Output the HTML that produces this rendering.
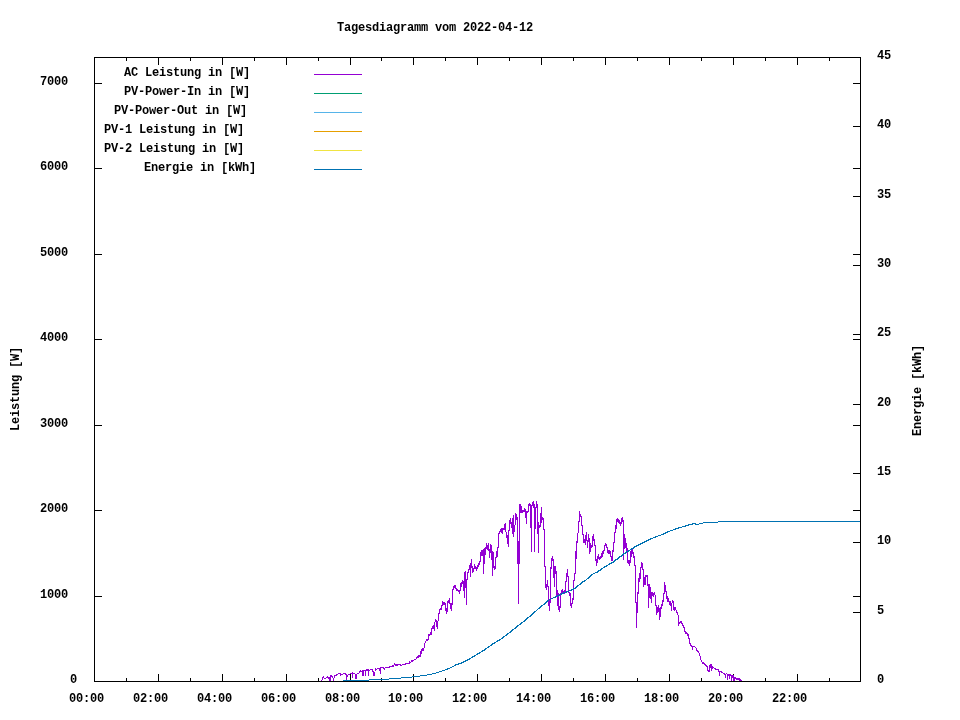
<!DOCTYPE html>
<html><head><meta charset="utf-8"><title>Tagesdiagramm vom 2022-04-12</title>
<style>html,body{margin:0;padding:0;background:#fff;width:960px;height:720px;overflow:hidden}svg{display:block}</style>
</head><body>
<svg width="960" height="720" viewBox="0 0 960 720" shape-rendering="crispEdges">
<rect x="0" y="0" width="960" height="720" fill="#fff"/>
<path d="M126.5 681v-3M126.5 58v3M158.5 681v-7M158.5 58v7M190.5 681v-3M190.5 58v3M222.5 681v-7M222.5 58v7M254.5 681v-3M254.5 58v3M286.5 681v-7M286.5 58v7M318.5 681v-3M318.5 58v3M350.5 681v-7M350.5 58v7M381.5 681v-3M381.5 58v3M413.5 681v-7M413.5 58v7M445.5 681v-3M445.5 58v3M477.5 681v-7M477.5 58v7M509.5 681v-3M509.5 58v3M541.5 681v-7M541.5 58v7M573.5 681v-3M573.5 58v3M605.5 681v-7M605.5 58v7M637.5 681v-3M637.5 58v3M669.5 681v-7M669.5 58v7M701.5 681v-3M701.5 58v3M733.5 681v-7M733.5 58v7M765.5 681v-3M765.5 58v3M797.5 681v-7M797.5 58v7M829.5 681v-3M829.5 58v3M95 681.5h7M860 681.5h-7M95 596.5h7M860 596.5h-7M95 510.5h7M860 510.5h-7M95 425.5h7M860 425.5h-7M95 339.5h7M860 339.5h-7M95 254.5h7M860 254.5h-7M95 168.5h7M860 168.5h-7M95 83.5h7M860 83.5h-7M860 681.5h-7M860 612.5h-7M860 542.5h-7M860 473.5h-7M860 404.5h-7M860 334.5h-7M860 265.5h-7M860 196.5h-7M860 126.5h-7M860 57.5h-7" stroke="#000" stroke-width="1" fill="none"/>
<path d="M321 680h1v1h-1zM322 677h1v3h-1zM323 676h1v2h-1zM324 678h1v1h-1zM325 678h1v1h-1zM326 677h1v1h-1zM327 676h1v2h-1zM328 677h1v2h-1zM329 677h1v4h-1zM330 675h1v6h-1zM331 675h1v2h-1zM332 676h1v2h-1zM333 678h1v3h-1zM334 675h1v3h-1zM335 675h1v1h-1zM336 674h1v2h-1zM337 674h1v1h-1zM338 673h1v1h-1zM339 673h1v1h-1zM340 673h1v3h-1zM341 674h1v1h-1zM342 674h1v1h-1zM343 673h1v1h-1zM344 673h1v1h-1zM345 673h1v2h-1zM346 674h1v6h-1zM347 675h1v2h-1zM348 674h1v1h-1zM349 674h1v1h-1zM350 673h1v1h-1zM351 673h1v1h-1zM352 672h1v6h-1zM353 673h1v1h-1zM354 673h1v1h-1zM355 674h1v5h-1zM356 674h1v5h-1zM357 673h1v1h-1zM358 673h1v1h-1zM359 671h1v2h-1zM360 670h1v2h-1zM361 671h1v1h-1zM362 670h1v6h-1zM363 670h1v6h-1zM364 670h1v1h-1zM365 670h1v6h-1zM366 669h1v2h-1zM367 669h1v2h-1zM368 669h1v7h-1zM369 670h1v1h-1zM370 669h1v1h-1zM371 669h1v1h-1zM372 669h1v3h-1zM373 671h1v5h-1zM374 672h1v4h-1zM375 668h1v3h-1zM376 669h1v1h-1zM377 668h1v1h-1zM378 668h1v1h-1zM379 668h1v3h-1zM380 667h1v7h-1zM381 667h1v1h-1zM382 667h1v1h-1zM383 667h1v2h-1zM384 668h1v2h-1zM385 667h1v1h-1zM386 667h1v1h-1zM387 667h1v1h-1zM388 667h1v1h-1zM389 666h1v2h-1zM390 666h1v1h-1zM391 666h1v1h-1zM392 665h1v2h-1zM393 665h1v2h-1zM394 663h1v2h-1zM395 664h1v2h-1zM396 664h1v2h-1zM397 664h1v2h-1zM398 664h1v1h-1zM399 664h1v1h-1zM400 664h1v2h-1zM401 665h1v1h-1zM402 664h1v1h-1zM403 664h1v1h-1zM404 664h1v1h-1zM405 663h1v2h-1zM406 663h1v1h-1zM407 663h1v1h-1zM408 663h1v1h-1zM409 661h1v3h-1zM410 662h1v1h-1zM411 660h1v2h-1zM412 660h1v2h-1zM413 660h1v1h-1zM414 659h1v1h-1zM415 659h1v1h-1zM416 657h1v2h-1zM417 656h1v2h-1zM418 655h1v3h-1zM419 655h1v2h-1zM420 651h1v6h-1zM421 649h1v5h-1zM422 648h1v3h-1zM423 648h1v3h-1zM424 643h1v5h-1zM425 641h1v2h-1zM426 639h1v2h-1zM427 639h1v2h-1zM428 634h1v6h-1zM429 634h1v2h-1zM430 632h1v3h-1zM431 628h1v7h-1zM432 626h1v3h-1zM433 625h1v4h-1zM434 622h1v9h-1zM435 619h1v3h-1zM436 620h1v7h-1zM437 621h1v8h-1zM438 613h1v8h-1zM439 609h1v5h-1zM440 608h1v2h-1zM441 605h1v5h-1zM442 601h1v5h-1zM443 602h1v3h-1zM444 602h1v3h-1zM445 603h1v8h-1zM446 608h1v6h-1zM447 601h1v11h-1zM448 600h1v3h-1zM449 598h1v6h-1zM450 603h1v6h-1zM451 603h1v8h-1zM452 589h1v16h-1zM453 586h1v4h-1zM454 585h1v3h-1zM455 585h1v4h-1zM456 588h1v3h-1zM457 589h1v2h-1zM458 590h1v2h-1zM459 590h1v4h-1zM460 583h1v8h-1zM461 582h1v5h-1zM462 580h1v4h-1zM463 581h1v10h-1zM464 572h1v26h-1zM465 571h1v17h-1zM466 579h1v26h-1zM467 572h1v8h-1zM468 569h1v4h-1zM469 565h1v5h-1zM470 563h1v14h-1zM471 559h1v9h-1zM472 566h1v7h-1zM473 568h1v4h-1zM474 564h1v5h-1zM475 566h1v3h-1zM476 567h1v4h-1zM477 565h1v4h-1zM478 563h1v4h-1zM479 561h1v4h-1zM480 552h1v10h-1zM481 550h1v6h-1zM482 550h1v6h-1zM483 549h1v25h-1zM484 548h1v16h-1zM485 547h1v8h-1zM486 543h1v6h-1zM487 545h1v5h-1zM488 543h1v8h-1zM489 549h1v9h-1zM490 544h1v9h-1zM491 545h1v15h-1zM492 551h1v25h-1zM493 552h1v16h-1zM494 566h1v4h-1zM495 557h1v12h-1zM496 551h1v7h-1zM497 547h1v10h-1zM498 533h1v15h-1zM499 531h1v3h-1zM500 529h1v3h-1zM501 528h1v5h-1zM502 528h1v6h-1zM503 528h1v2h-1zM504 524h1v6h-1zM505 523h1v9h-1zM506 532h1v6h-1zM507 535h1v9h-1zM508 530h1v17h-1zM509 520h1v11h-1zM510 518h1v6h-1zM511 522h1v6h-1zM512 518h1v16h-1zM513 515h1v22h-1zM514 525h1v7h-1zM515 513h1v12h-1zM516 514h1v6h-1zM517 517h1v47h-1zM518 541h1v63h-1zM519 504h1v60h-1zM520 504h1v9h-1zM521 506h1v7h-1zM522 510h1v3h-1zM523 510h1v2h-1zM524 508h1v4h-1zM525 509h1v9h-1zM526 511h1v13h-1zM527 511h1v2h-1zM528 504h1v8h-1zM529 503h1v3h-1zM530 504h1v24h-1zM531 505h1v47h-1zM532 502h1v4h-1zM533 501h1v7h-1zM534 504h1v48h-1zM535 507h1v22h-1zM536 501h1v7h-1zM537 504h1v30h-1zM538 522h1v31h-1zM539 525h1v3h-1zM540 513h1v14h-1zM541 507h1v16h-1zM542 517h1v3h-1zM543 518h1v12h-1zM544 529h1v38h-1zM545 566h1v22h-1zM546 584h1v6h-1zM547 580h1v7h-1zM548 586h1v20h-1zM549 599h1v12h-1zM550 567h1v36h-1zM551 558h1v11h-1zM552 556h1v5h-1zM553 559h1v19h-1zM554 566h1v21h-1zM555 566h1v8h-1zM556 571h1v25h-1zM557 590h1v16h-1zM558 593h1v17h-1zM559 606h1v6h-1zM560 593h1v15h-1zM561 590h1v4h-1zM562 589h1v4h-1zM563 591h1v3h-1zM564 590h1v4h-1zM565 581h1v12h-1zM566 573h1v9h-1zM567 569h1v8h-1zM568 576h1v17h-1zM569 592h1v4h-1zM570 593h1v13h-1zM571 603h1v5h-1zM572 598h1v6h-1zM573 580h1v20h-1zM574 573h1v8h-1zM575 551h1v23h-1zM576 541h1v18h-1zM577 533h1v10h-1zM578 521h1v12h-1zM579 511h1v11h-1zM580 514h1v3h-1zM581 516h1v10h-1zM582 525h1v10h-1zM583 534h1v9h-1zM584 539h1v4h-1zM585 535h1v10h-1zM586 532h1v9h-1zM587 540h1v8h-1zM588 534h1v8h-1zM589 538h1v16h-1zM590 543h1v9h-1zM591 545h1v3h-1zM592 536h1v11h-1zM593 534h1v7h-1zM594 539h1v7h-1zM595 545h1v16h-1zM596 559h1v7h-1zM597 556h1v7h-1zM598 554h1v5h-1zM599 557h1v3h-1zM600 556h1v3h-1zM601 553h1v5h-1zM602 551h1v6h-1zM603 550h1v4h-1zM604 545h1v6h-1zM605 543h1v3h-1zM606 544h1v4h-1zM607 547h1v6h-1zM608 550h1v4h-1zM609 550h1v4h-1zM610 551h1v6h-1zM611 556h1v5h-1zM612 550h1v11h-1zM613 542h1v10h-1zM614 532h1v11h-1zM615 525h1v8h-1zM616 519h1v10h-1zM617 518h1v4h-1zM618 519h1v4h-1zM619 520h1v4h-1zM620 522h1v4h-1zM621 518h1v6h-1zM622 517h1v5h-1zM623 520h1v40h-1zM624 534h1v15h-1zM625 538h1v10h-1zM626 543h1v9h-1zM627 548h1v15h-1zM628 560h1v4h-1zM629 560h1v6h-1zM630 551h1v12h-1zM631 550h1v7h-1zM632 548h1v6h-1zM633 552h1v6h-1zM634 556h1v10h-1zM635 565h1v38h-1zM636 602h1v26h-1zM637 592h1v21h-1zM638 578h1v16h-1zM639 573h1v9h-1zM640 567h1v12h-1zM641 562h1v6h-1zM642 563h1v7h-1zM643 569h1v18h-1zM644 577h1v8h-1zM645 575h1v10h-1zM646 575h1v2h-1zM647 575h1v11h-1zM648 584h1v24h-1zM649 584h1v14h-1zM650 587h1v12h-1zM651 592h1v11h-1zM652 592h1v4h-1zM653 593h1v4h-1zM654 592h1v3h-1zM655 595h1v11h-1zM656 605h1v10h-1zM657 607h1v6h-1zM658 605h1v7h-1zM659 608h1v12h-1zM660 607h1v10h-1zM661 604h1v5h-1zM662 600h1v6h-1zM663 593h1v9h-1zM664 582h1v12h-1zM665 585h1v7h-1zM666 591h1v8h-1zM667 596h1v6h-1zM668 598h1v4h-1zM669 601h1v4h-1zM670 601h1v5h-1zM671 603h1v8h-1zM672 600h1v3h-1zM673 601h1v9h-1zM674 607h1v4h-1zM675 607h1v3h-1zM676 610h1v3h-1zM677 612h1v3h-1zM678 615h1v11h-1zM679 622h1v2h-1zM680 621h1v2h-1zM681 621h1v3h-1zM682 623h1v3h-1zM683 625h1v3h-1zM684 627h1v5h-1zM685 631h1v3h-1zM686 632h1v2h-1zM687 633h1v3h-1zM688 634h1v5h-1zM689 638h1v6h-1zM690 643h1v3h-1zM691 645h1v2h-1zM692 646h1v4h-1zM693 646h1v1h-1zM694 646h1v1h-1zM695 647h1v1h-1zM696 648h1v3h-1zM697 650h1v2h-1zM698 651h1v2h-1zM699 653h1v3h-1zM700 656h1v4h-1zM701 660h1v2h-1zM702 662h1v2h-1zM703 662h1v2h-1zM704 663h1v2h-1zM705 664h1v2h-1zM706 665h1v2h-1zM707 666h1v5h-1zM708 670h1v2h-1zM709 665h1v7h-1zM710 664h1v4h-1zM711 664h1v7h-1zM712 666h1v3h-1zM713 667h1v1h-1zM714 668h1v1h-1zM715 668h1v2h-1zM716 669h1v1h-1zM717 669h1v1h-1zM718 669h1v3h-1zM719 671h1v5h-1zM720 671h1v1h-1zM721 671h1v2h-1zM722 672h1v1h-1zM723 673h1v1h-1zM724 673h1v2h-1zM725 674h1v4h-1zM726 673h1v1h-1zM727 674h1v6h-1zM728 674h1v2h-1zM729 674h1v5h-1zM730 674h1v2h-1zM731 675h1v6h-1zM732 675h1v3h-1zM733 675h1v6h-1zM734 677h1v4h-1zM735 677h1v2h-1zM736 678h1v2h-1zM737 678h1v2h-1zM738 678h1v2h-1zM739 678h1v3h-1zM740 679h1v2h-1zM741 680h1v1h-1z" fill="#9400d3"/>
<path d="M343 680h1v1h-1zM344 680h1v1h-1zM345 680h1v1h-1zM346 680h1v1h-1zM347 680h1v1h-1zM348 680h1v1h-1zM349 680h1v1h-1zM350 680h1v1h-1zM351 680h1v1h-1zM352 680h1v1h-1zM353 680h1v1h-1zM354 680h1v1h-1zM355 680h1v1h-1zM356 680h1v1h-1zM357 680h1v1h-1zM358 680h1v1h-1zM359 680h1v1h-1zM360 680h1v1h-1zM361 680h1v1h-1zM362 680h1v1h-1zM363 680h1v1h-1zM364 680h1v1h-1zM365 680h1v1h-1zM366 680h1v1h-1zM367 680h1v1h-1zM368 680h1v1h-1zM369 679h1v1h-1zM370 679h1v1h-1zM371 679h1v1h-1zM372 679h1v1h-1zM373 679h1v1h-1zM374 679h1v1h-1zM375 679h1v1h-1zM376 679h1v1h-1zM377 679h1v1h-1zM378 679h1v1h-1zM379 679h1v1h-1zM380 679h1v1h-1zM381 679h1v1h-1zM382 679h1v1h-1zM383 679h1v1h-1zM384 679h1v1h-1zM385 679h1v1h-1zM386 679h1v1h-1zM387 679h1v1h-1zM388 679h1v1h-1zM389 678h1v1h-1zM390 678h1v1h-1zM391 678h1v1h-1zM392 678h1v1h-1zM393 678h1v1h-1zM394 678h1v1h-1zM395 678h1v1h-1zM396 678h1v1h-1zM397 678h1v1h-1zM398 678h1v1h-1zM399 678h1v1h-1zM400 678h1v1h-1zM401 677h1v1h-1zM402 677h1v1h-1zM403 677h1v1h-1zM404 677h1v1h-1zM405 677h1v1h-1zM406 677h1v1h-1zM407 677h1v1h-1zM408 677h1v1h-1zM409 677h1v1h-1zM410 677h1v1h-1zM411 677h1v1h-1zM412 676h1v1h-1zM413 676h1v1h-1zM414 676h1v1h-1zM415 676h1v1h-1zM416 676h1v1h-1zM417 676h1v1h-1zM418 676h1v1h-1zM419 676h1v1h-1zM420 675h1v1h-1zM421 675h1v1h-1zM422 675h1v1h-1zM423 675h1v1h-1zM424 675h1v1h-1zM425 675h1v1h-1zM426 675h1v1h-1zM427 674h1v1h-1zM428 674h1v1h-1zM429 674h1v1h-1zM430 674h1v1h-1zM431 674h1v1h-1zM432 673h1v1h-1zM433 673h1v1h-1zM434 673h1v1h-1zM435 673h1v1h-1zM436 672h1v1h-1zM437 672h1v1h-1zM438 672h1v1h-1zM439 671h1v1h-1zM440 671h1v1h-1zM441 671h1v1h-1zM442 670h1v1h-1zM443 670h1v1h-1zM444 670h1v1h-1zM445 669h1v1h-1zM446 669h1v1h-1zM447 668h1v2h-1zM448 668h1v1h-1zM449 668h1v1h-1zM450 667h1v1h-1zM451 667h1v1h-1zM452 666h1v1h-1zM453 666h1v1h-1zM454 665h1v1h-1zM455 664h1v2h-1zM456 664h1v1h-1zM457 664h1v1h-1zM458 663h1v2h-1zM459 663h1v1h-1zM460 663h1v1h-1zM461 662h1v2h-1zM462 662h1v1h-1zM463 661h1v2h-1zM464 661h1v1h-1zM465 660h1v2h-1zM466 660h1v1h-1zM467 659h1v2h-1zM468 659h1v1h-1zM469 658h1v2h-1zM470 658h1v1h-1zM471 657h1v1h-1zM472 656h1v2h-1zM473 656h1v1h-1zM474 655h1v2h-1zM475 655h1v1h-1zM476 654h1v1h-1zM477 653h1v2h-1zM478 653h1v1h-1zM479 652h1v2h-1zM480 652h1v1h-1zM481 651h1v1h-1zM482 650h1v2h-1zM483 650h1v1h-1zM484 649h1v2h-1zM485 648h1v2h-1zM486 648h1v1h-1zM487 647h1v1h-1zM488 646h1v2h-1zM489 646h1v1h-1zM490 645h1v1h-1zM491 644h1v2h-1zM492 643h1v2h-1zM493 643h1v1h-1zM494 642h1v2h-1zM495 642h1v1h-1zM496 641h1v1h-1zM497 640h1v2h-1zM498 640h1v1h-1zM499 639h1v2h-1zM500 639h1v1h-1zM501 638h1v1h-1zM502 637h1v2h-1zM503 636h1v2h-1zM504 636h1v1h-1zM505 635h1v1h-1zM506 634h1v2h-1zM507 633h1v2h-1zM508 633h1v1h-1zM509 632h1v1h-1zM510 631h1v2h-1zM511 630h1v2h-1zM512 629h1v2h-1zM513 629h1v1h-1zM514 628h1v1h-1zM515 627h1v2h-1zM516 626h1v2h-1zM517 625h1v2h-1zM518 625h1v1h-1zM519 624h1v1h-1zM520 623h1v2h-1zM521 622h1v2h-1zM522 622h1v1h-1zM523 621h1v1h-1zM524 620h1v2h-1zM525 619h1v2h-1zM526 618h1v2h-1zM527 617h1v2h-1zM528 617h1v1h-1zM529 616h1v1h-1zM530 615h1v2h-1zM531 614h1v2h-1zM532 613h1v2h-1zM533 612h1v2h-1zM534 611h1v2h-1zM535 611h1v1h-1zM536 610h1v1h-1zM537 609h1v1h-1zM538 608h1v1h-1zM539 607h1v2h-1zM540 606h1v2h-1zM541 605h1v2h-1zM542 605h1v1h-1zM543 604h1v1h-1zM544 603h1v2h-1zM545 602h1v2h-1zM546 601h1v2h-1zM547 600h1v2h-1zM548 600h1v1h-1zM549 599h1v1h-1zM550 599h1v1h-1zM551 598h1v1h-1zM552 598h1v1h-1zM553 597h1v1h-1zM554 597h1v1h-1zM555 596h1v2h-1zM556 596h1v1h-1zM557 595h1v2h-1zM558 595h1v1h-1zM559 594h1v2h-1zM560 594h1v1h-1zM561 593h1v2h-1zM562 593h1v1h-1zM563 592h1v2h-1zM564 592h1v1h-1zM565 592h1v1h-1zM566 591h1v2h-1zM567 591h1v1h-1zM568 591h1v1h-1zM569 590h1v1h-1zM570 590h1v1h-1zM571 589h1v2h-1zM572 589h1v1h-1zM573 588h1v2h-1zM574 588h1v1h-1zM575 587h1v2h-1zM576 586h1v2h-1zM577 585h1v2h-1zM578 585h1v1h-1zM579 584h1v1h-1zM580 583h1v2h-1zM581 582h1v2h-1zM582 581h1v2h-1zM583 581h1v1h-1zM584 580h1v2h-1zM585 580h1v1h-1zM586 579h1v1h-1zM587 578h1v1h-1zM588 577h1v2h-1zM589 576h1v2h-1zM590 575h1v2h-1zM591 574h1v2h-1zM592 574h1v1h-1zM593 573h1v1h-1zM594 573h1v1h-1zM595 572h1v1h-1zM596 572h1v1h-1zM597 571h1v2h-1zM598 570h1v2h-1zM599 570h1v1h-1zM600 569h1v2h-1zM601 568h1v2h-1zM602 568h1v1h-1zM603 567h1v1h-1zM604 566h1v2h-1zM605 566h1v1h-1zM606 565h1v2h-1zM607 565h1v1h-1zM608 564h1v1h-1zM609 563h1v2h-1zM610 563h1v1h-1zM611 562h1v2h-1zM612 562h1v1h-1zM613 561h1v2h-1zM614 560h1v2h-1zM615 559h1v2h-1zM616 559h1v1h-1zM617 558h1v2h-1zM618 557h1v2h-1zM619 556h1v2h-1zM620 556h1v1h-1zM621 555h1v2h-1zM622 554h1v2h-1zM623 553h1v2h-1zM624 553h1v1h-1zM625 552h1v2h-1zM626 551h1v2h-1zM627 551h1v1h-1zM628 550h1v2h-1zM629 550h1v1h-1zM630 549h1v1h-1zM631 548h1v2h-1zM632 548h1v1h-1zM633 547h1v2h-1zM634 546h1v2h-1zM635 546h1v1h-1zM636 545h1v2h-1zM637 545h1v1h-1zM638 544h1v2h-1zM639 544h1v1h-1zM640 543h1v2h-1zM641 543h1v1h-1zM642 542h1v2h-1zM643 542h1v1h-1zM644 541h1v2h-1zM645 541h1v1h-1zM646 540h1v2h-1zM647 540h1v1h-1zM648 539h1v2h-1zM649 539h1v1h-1zM650 538h1v2h-1zM651 538h1v1h-1zM652 538h1v1h-1zM653 537h1v1h-1zM654 537h1v1h-1zM655 536h1v2h-1zM656 536h1v1h-1zM657 536h1v1h-1zM658 535h1v1h-1zM659 535h1v1h-1zM660 535h1v1h-1zM661 534h1v1h-1zM662 534h1v1h-1zM663 533h1v2h-1zM664 533h1v1h-1zM665 532h1v2h-1zM666 532h1v1h-1zM667 531h1v2h-1zM668 531h1v1h-1zM669 531h1v1h-1zM670 530h1v1h-1zM671 530h1v1h-1zM672 530h1v1h-1zM673 529h1v1h-1zM674 529h1v1h-1zM675 528h1v2h-1zM676 528h1v1h-1zM677 528h1v1h-1zM678 527h1v2h-1zM679 527h1v1h-1zM680 527h1v1h-1zM681 527h1v1h-1zM682 526h1v1h-1zM683 526h1v1h-1zM684 526h1v1h-1zM685 525h1v2h-1zM686 525h1v1h-1zM687 525h1v1h-1zM688 524h1v2h-1zM689 524h1v1h-1zM690 524h1v1h-1zM691 524h1v1h-1zM692 523h1v2h-1zM693 523h1v1h-1zM694 523h1v1h-1zM695 523h1v2h-1zM696 524h1v1h-1zM697 524h1v1h-1zM698 524h1v1h-1zM699 523h1v1h-1zM700 523h1v1h-1zM701 523h1v1h-1zM702 523h1v1h-1zM703 522h1v1h-1zM704 522h1v1h-1zM705 522h1v1h-1zM706 522h1v1h-1zM707 522h1v1h-1zM708 522h1v1h-1zM709 522h1v1h-1zM710 522h1v1h-1zM711 522h1v1h-1zM712 522h1v1h-1zM713 522h1v1h-1zM714 522h1v1h-1zM715 522h1v1h-1zM716 522h1v1h-1zM717 522h1v1h-1zM718 521h1v1h-1zM719 521h1v1h-1zM720 521h1v1h-1zM721 521h1v1h-1zM722 521h1v1h-1zM723 521h1v1h-1zM724 521h1v1h-1zM725 521h1v1h-1zM726 521h1v1h-1zM727 521h1v1h-1zM728 521h1v1h-1zM729 521h1v1h-1zM730 521h1v1h-1zM731 521h1v1h-1zM732 521h1v1h-1zM733 521h1v1h-1zM734 521h1v1h-1zM735 521h1v1h-1zM736 521h1v1h-1zM737 521h1v1h-1zM738 521h1v1h-1zM739 521h1v1h-1zM740 521h1v1h-1zM741 521h1v1h-1zM742 521h1v1h-1zM743 521h1v1h-1zM744 521h1v1h-1zM745 521h1v1h-1zM746 521h1v1h-1zM747 521h1v1h-1zM748 521h1v1h-1zM749 521h1v1h-1zM750 521h1v1h-1zM751 521h1v1h-1zM752 521h1v1h-1zM753 521h1v1h-1zM754 521h1v1h-1zM755 521h1v1h-1zM756 521h1v1h-1zM757 521h1v1h-1zM758 521h1v1h-1zM759 521h1v1h-1zM760 521h1v1h-1zM761 521h1v1h-1zM762 521h1v1h-1zM763 521h1v1h-1zM764 521h1v1h-1zM765 521h1v1h-1zM766 521h1v1h-1zM767 521h1v1h-1zM768 521h1v1h-1zM769 521h1v1h-1zM770 521h1v1h-1zM771 521h1v1h-1zM772 521h1v1h-1zM773 521h1v1h-1zM774 521h1v1h-1zM775 521h1v1h-1zM776 521h1v1h-1zM777 521h1v1h-1zM778 521h1v1h-1zM779 521h1v1h-1zM780 521h1v1h-1zM781 521h1v1h-1zM782 521h1v1h-1zM783 521h1v1h-1zM784 521h1v1h-1zM785 521h1v1h-1zM786 521h1v1h-1zM787 521h1v1h-1zM788 521h1v1h-1zM789 521h1v1h-1zM790 521h1v1h-1zM791 521h1v1h-1zM792 521h1v1h-1zM793 521h1v1h-1zM794 521h1v1h-1zM795 521h1v1h-1zM796 521h1v1h-1zM797 521h1v1h-1zM798 521h1v1h-1zM799 521h1v1h-1zM800 521h1v1h-1zM801 521h1v1h-1zM802 521h1v1h-1zM803 521h1v1h-1zM804 521h1v1h-1zM805 521h1v1h-1zM806 521h1v1h-1zM807 521h1v1h-1zM808 521h1v1h-1zM809 521h1v1h-1zM810 521h1v1h-1zM811 521h1v1h-1zM812 521h1v1h-1zM813 521h1v1h-1zM814 521h1v1h-1zM815 521h1v1h-1zM816 521h1v1h-1zM817 521h1v1h-1zM818 521h1v1h-1zM819 521h1v1h-1zM820 521h1v1h-1zM821 521h1v1h-1zM822 521h1v1h-1zM823 521h1v1h-1zM824 521h1v1h-1zM825 521h1v1h-1zM826 521h1v1h-1zM827 521h1v1h-1zM828 521h1v1h-1zM829 521h1v1h-1zM830 521h1v1h-1zM831 521h1v1h-1zM832 521h1v1h-1zM833 521h1v1h-1zM834 521h1v1h-1zM835 521h1v1h-1zM836 521h1v1h-1zM837 521h1v1h-1zM838 521h1v1h-1zM839 521h1v1h-1zM840 521h1v1h-1zM841 521h1v1h-1zM842 521h1v1h-1zM843 521h1v1h-1zM844 521h1v1h-1zM845 521h1v1h-1zM846 521h1v1h-1zM847 521h1v1h-1zM848 521h1v1h-1zM849 521h1v1h-1zM850 521h1v1h-1zM851 521h1v1h-1zM852 521h1v1h-1zM853 521h1v1h-1zM854 521h1v1h-1zM855 521h1v1h-1zM856 521h1v1h-1zM857 521h1v1h-1zM858 521h1v1h-1zM859 521h1v1h-1zM860 521h1v1h-1z" fill="#0072b2"/>
<rect x="94.5" y="57.5" width="766" height="624" stroke="#000" stroke-width="1" fill="none"/>
<g font-family="Liberation Mono, monospace" font-weight="bold" font-size="12" letter-spacing="-0.2" fill="#000" shape-rendering="auto">
<text x="337" y="31">Tagesdiagramm vom 2022-04-12</text>
<text x="70" y="683">0</text>
<text x="40" y="598">1000</text>
<text x="40" y="512">2000</text>
<text x="40" y="427">3000</text>
<text x="40" y="341">4000</text>
<text x="40" y="256">5000</text>
<text x="40" y="170">6000</text>
<text x="40" y="85">7000</text>
<text x="877" y="683">0</text>
<text x="877" y="614">5</text>
<text x="877" y="544">10</text>
<text x="877" y="475">15</text>
<text x="877" y="406">20</text>
<text x="877" y="336">25</text>
<text x="877" y="267">30</text>
<text x="877" y="198">35</text>
<text x="877" y="128">40</text>
<text x="877" y="59">45</text>
<text x="69" y="702">00:00</text>
<text x="133" y="702">02:00</text>
<text x="197" y="702">04:00</text>
<text x="261" y="702">06:00</text>
<text x="325" y="702">08:00</text>
<text x="388" y="702">10:00</text>
<text x="452" y="702">12:00</text>
<text x="516" y="702">14:00</text>
<text x="580" y="702">16:00</text>
<text x="644" y="702">18:00</text>
<text x="708" y="702">20:00</text>
<text x="772" y="702">22:00</text>
<text transform="translate(19,431) rotate(-90)">Leistung [W]</text>
<text transform="translate(921,436) rotate(-90)">Energie [kWh]</text>
<text x="124" y="76">AC Leistung in [W]</text>
<text x="124" y="95">PV-Power-In in [W]</text>
<text x="114" y="114">PV-Power-Out in [W]</text>
<text x="104" y="133">PV-1 Leistung in [W]</text>
<text x="104" y="152">PV-2 Leistung in [W]</text>
<text x="144" y="171">Energie in [kWh]</text>
</g>
<path d="M314 74.5H362" stroke="#9400d3" stroke-width="1"/>
<path d="M314 93.5H362" stroke="#009e73" stroke-width="1"/>
<path d="M314 112.5H362" stroke="#56b4e9" stroke-width="1"/>
<path d="M314 131.5H362" stroke="#e69f00" stroke-width="1"/>
<path d="M314 150.5H362" stroke="#f0e442" stroke-width="1"/>
<path d="M314 169.5H362" stroke="#0072b2" stroke-width="1"/>
</svg>
</body></html>
